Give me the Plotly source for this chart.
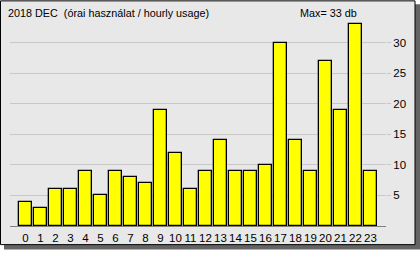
import plotly.graph_objects as go

hours = list(range(24))
usage = [4, 3, 6, 6, 9, 5, 9, 8, 7, 19, 12, 6, 9, 14, 9, 9, 10, 30, 14, 9, 27, 19, 33, 9]
y_ticks = [5, 10, 15, 20, 25, 30]
title_text = "2018 DEC  (órai használat / hourly usage)"
max_text = "Max= 33 db"

W, H = 420, 254
L, R, T, B = 10, 386, 20, 230  # plot area in pixels

def X(px):
    return (px - L) / (R - L)

def Y(py):
    return (B - py) / (B - T)

font = dict(family="Liberation Sans, Arial, sans-serif", size=11.5, color="black")
title_font = dict(family="Liberation Sans, Arial, sans-serif", size=10.8, color="black")

fig = go.Figure()
fig.add_trace(go.Bar(
    x=hours, y=usage, width=0.85,
    marker=dict(color="#FFFF00", line=dict(color="black", width=1.3)),
    hoverinfo="x+y",
))

px_per_cat = 15
extra = ((R - L) - 24 * px_per_cat) / 2 / px_per_cat
fig.update_layout(
    width=W, height=H,
    margin=dict(l=L, r=W - R, t=T, b=H - B, pad=0),
    paper_bgcolor="white",
    plot_bgcolor="rgba(0,0,0,0)",
    showlegend=False,
    font=font,
    bargap=0,
    xaxis=dict(
        range=[-0.5 - extra, 23.5 + extra],
        tickmode="array", tickvals=hours, ticktext=[str(h) for h in hours],
        showgrid=False, zeroline=False,
        showline=True, linecolor="#808080", linewidth=1,
        ticks="", ticklabelstandoff=1, tickangle=0,
        tickfont=font, fixedrange=True,
    ),
    yaxis=dict(
        range=[0, (B - T) / 6.233],
        side="right",
        tickmode="array", tickvals=y_ticks, ticktext=[str(v) for v in y_ticks],
        showgrid=True, gridcolor="#C8C8C8", gridwidth=1,
        zeroline=False, showline=False,
        ticks="outside", ticklen=4, tickcolor="#C8C8C8",
        tickfont=font, fixedrange=True,
    ),
    shapes=[
        # shadow
        dict(type="rect", xref="paper", yref="paper", layer="below",
             x0=X(4), x1=X(420), y0=Y(4), y1=Y(254),
             fillcolor="#646464", line=dict(width=0)),
        # panel
        dict(type="rect", xref="paper", yref="paper", layer="below",
             x0=X(0.5), x1=X(415), y0=Y(0.5), y1=Y(249),
             fillcolor="#E8E8E8", line=dict(color="black", width=1)),
    ],
    annotations=[
        dict(text=title_text, xref="paper", yref="paper",
             x=X(6), y=Y(13), xanchor="left", yanchor="middle",
             showarrow=False, font=title_font),
        dict(text=max_text, xref="paper", yref="paper",
             x=X(328), y=Y(13), xanchor="center", yanchor="middle",
             showarrow=False, font=title_font),
    ],
)

fig.write_html("out.html", config={"displayModeBar": False})
